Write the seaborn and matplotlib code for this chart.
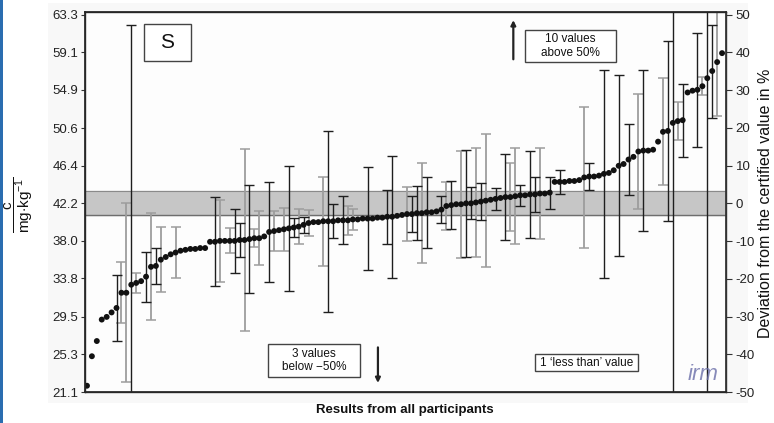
import numpy as np
import matplotlib
matplotlib.use("Agg")
import matplotlib.pyplot as plt
import seaborn as sns
from matplotlib.patches import Rectangle

# certified value and its uncertainty (mg/kg)
certified = 42.2
cert_unc = 1.35

# all participant results, sorted ascending (mg/kg)
results = [
    21.8, 25.1, 26.8, 29.2, 29.5, 30.0, 30.5, 32.2, 32.2, 33.1,
    33.3, 33.5, 34.0, 35.1, 35.2, 35.9, 36.2, 36.5, 36.7, 36.9,
    37.0, 37.1, 37.1, 37.2, 37.2, 37.9, 37.9, 38.0, 38.0, 38.0,
    38.0, 38.1, 38.1, 38.2, 38.3, 38.3, 38.5, 39.0, 39.1, 39.2,
    39.3, 39.4, 39.5, 39.6, 39.8, 40.0, 40.1, 40.1, 40.2, 40.2,
    40.2, 40.3, 40.3, 40.3, 40.4, 40.4, 40.5, 40.5, 40.5, 40.6,
    40.6, 40.7, 40.7, 40.8, 40.9, 41.0, 41.0, 41.1, 41.1, 41.2,
    41.2, 41.3, 41.5, 41.9, 42.0, 42.1, 42.1, 42.2, 42.2, 42.3,
    42.4, 42.5, 42.6, 42.7, 42.8, 42.9, 42.9, 43.0, 43.1, 43.1,
    43.2, 43.2, 43.3, 43.3, 43.4, 44.6, 44.6, 44.6, 44.7, 44.7,
    44.8, 45.1, 45.2, 45.2, 45.3, 45.5, 45.6, 45.9, 46.4, 46.6,
    47.1, 47.4, 48.0, 48.1, 48.1, 48.2, 49.1, 50.2, 50.3, 51.2,
    51.4, 51.5, 54.6, 54.8, 54.9, 55.3, 56.2, 57.0, 58.0, 59.0,
]

# reported uncertainties (rank -> U), drawn dark
dark_rank = [6, 9, 12, 14, 26, 30, 31, 33, 37, 41, 42, 44, 49, 50, 52, 57, 61, 62,
             66, 67, 69, 72, 74, 77, 78, 80, 83, 85, 88, 90, 91, 94, 96, 102, 105,
             108, 110, 113, 118, 119, 121, 124, 126, 127]
dark_u = [3.7, 29.1, 2.8, 2.0, 5.0, 3.6, 1.9, 6.0, 5.6, 7.0, 1.1, 0.9, 10.1, 1.9, 2.7, 5.8, 3.0, 6.8,
          2.0, 3.0, 4.0, 1.5, 2.7, 6.0, 1.8, 2.1, 1.2, 4.8, 1.2, 4.9, 2.0, 1.8, 1.3, 1.5, 11.6,
          10.1, 4.0, 9.0, 10.1, 31.0, 4.1, 6.4, 40.0, 5.2]

# other uncertainties, drawn grey
grey_rank = [7, 8, 10, 13, 15, 18, 27, 29, 32, 34, 35, 38, 40, 43, 45, 48, 53, 54,
             65, 68, 73, 76, 79, 81, 86, 87, 92, 101, 112, 117, 120, 125, 128]
grey_u = [3.4, 10.0, 1.1, 6.0, 3.6, 2.8, 4.6, 1.4, 10.2, 1.0, 3.0, 2.2, 2.4, 2.0, 1.5, 5.0, 1.6, 1.2,
          3.0, 5.6, 2.7, 6.0, 6.1, 7.4, 3.8, 5.4, 5.1, 7.9, 6.4, 6.0, 2.1, 1.0, 6.0]

left_ticks = [63.3, 59.1, 54.9, 50.6, 46.4, 42.2, 38.0, 33.8, 29.5, 25.3, 21.1]
right_ticks = [50, 40, 30, 20, 10, 0, -10, -20, -30, -40, -50]

sns.set_theme(style="white")
plt.rcParams['font.family'] = ['Liberation Sans', 'DejaVu Sans']
plt.rcParams['mathtext.fontset'] = 'custom'
plt.rcParams['mathtext.rm'] = 'Liberation Sans'
plt.rcParams['mathtext.it'] = 'Liberation Sans:italic'

fig = plt.figure(figsize=(7.74, 4.23), dpi=100)
fig.patch.set_facecolor('white')
# scanned page background + blue page edge
fig.add_artist(Rectangle((48 / 774, 20 / 423), 700 / 774, 400 / 423, transform=fig.transFigure,
                         fc='#f8f8f8', ec='none', zorder=-5))
fig.add_artist(Rectangle((0, 0), 3 / 774, 1, transform=fig.transFigure, fc='#2a6db0', ec='none'))

ax = fig.add_axes([85 / 774, 31 / 423, 641 / 774, 380 / 423])
ax.set_facecolor('#fdfdfd')

ranks = np.arange(len(results))
res = np.array(results)

ax.axhspan(certified - cert_unc, certified + cert_unc, color='#c6c6c6', zorder=1)
ax.axhline(certified - cert_unc, color='#6e6e6e', lw=1.0, zorder=1)
ax.axhline(certified + cert_unc, color='#8a8a8a', lw=0.8, zorder=1)

ax.errorbar(np.array(grey_rank), res[grey_rank], yerr=grey_u, fmt='none',
            ecolor='#9d9d9d', elinewidth=1.3, capsize=3.4, capthick=1.1, zorder=2)
ax.errorbar(np.array(dark_rank), res[dark_rank], yerr=dark_u, fmt='none',
            ecolor='#1e1e1e', elinewidth=1.0, capsize=3.4, capthick=1.0, zorder=3)

sns.scatterplot(x=ranks, y=res, ax=ax, color='#111111', s=18, edgecolor='none', zorder=5)

ax.set_xlim(-0.4, len(results) - 0.2)
ax.set_ylim(21.1, 63.6)
ax.set_xticks([])
ax.set_yticks(left_ticks)
ax.set_yticklabels([f"{t:.1f}" for t in left_ticks], fontsize=9.5, color='#222222')
ax.tick_params(axis='y', length=3, width=0.8, pad=2, left=True, color='#333333')
ax.set_xlabel('')
ax.set_ylabel('')
for sp in ax.spines.values():
    sp.set_color('#333333')
    sp.set_linewidth(1.0)

ax2 = ax.twinx()
lo, hi = ax.get_ylim()
ax2.set_ylim((lo - certified) / certified * 100, (hi - certified) / certified * 100)
ax2.set_yticks(right_ticks)
ax2.set_yticklabels([str(t) for t in right_ticks], fontsize=9.5, color='#222222')
ax2.tick_params(axis='y', length=4, width=0.8, pad=3, right=True, color='#333333')
ax2.spines['right'].set_color('#333333')

# annotations
ax.annotate('', xy=(86.6, 63.0), xytext=(86.6, 58.0),
            arrowprops=dict(arrowstyle='-|>', color='#222222', lw=1.6, mutation_scale=7), zorder=6)
ax.annotate('', xy=(59.1, 21.8), xytext=(59.1, 26.4),
            arrowprops=dict(arrowstyle='-|>', color='#222222', lw=1.6, mutation_scale=7), zorder=6)

boxes = [
    ((144, 24, 191, 61), 'S', 15, 'center'),
    ((525, 30, 616, 62), '10 values\nabove 50%', 8.5, 'center'),
    ((268, 344, 360, 377), '3 values\nbelow \u221250%', 8.5, 'center'),
    ((535, 354, 638, 371), '1 \u2018less than\u2019 value', 8.5, 'left'),
]
for (x0, y0, x1, y1), txt, fs, ha in boxes:
    ax0, ay0 = (x0 - 85) / 641, (392 - y1) / 380
    w, h = (x1 - x0) / 641, (y1 - y0) / 380
    ax.add_patch(Rectangle((ax0, ay0), w, h, transform=ax.transAxes, fc='white',
                           ec='#444444', lw=1.0, zorder=7))
    tx = ax0 + w / 2 if ha == 'center' else ax0 + 0.008
    ax.text(tx, ay0 + h / 2, txt, transform=ax.transAxes, ha=ha, va='center',
            fontsize=fs, color='#111111', linespacing=1.2, zorder=8)

ax.text(0.965, 0.045, 'irm', transform=ax.transAxes, ha='center', va='center',
        fontsize=16, style='italic', color='#6a6ea8', alpha=0.8, zorder=8)

fig.text(19 / 774, 1 - 205 / 423, r'$\dfrac{\mathrm{c}}{\mathrm{mg{\cdot}kg^{-1}}}$',
         rotation=90, ha='center', va='center', fontsize=11, color='#111111')
fig.text(765 / 774, 1 - 203 / 423, 'Deviation from the certified value in %',
         rotation=90, ha='center', va='center', fontsize=11.5, color='#111111')
fig.text(405 / 774, 1 - 410 / 423, 'Results from all participants',
         ha='center', va='center', fontsize=9.5, fontweight='bold', color='#111111')

fig.savefig('out.png', dpi=100)
